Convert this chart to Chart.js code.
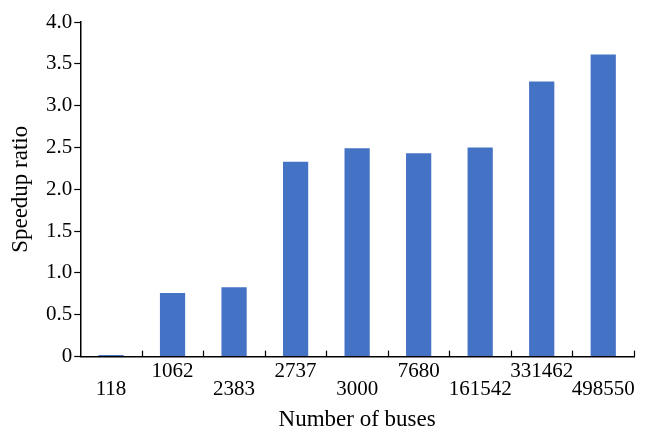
<!DOCTYPE html>
<html>
<head>
<meta charset="utf-8">
<script src="https://cdn.jsdelivr.net/npm/chart.js@4/dist/chart.umd.min.js"></script>
<style>
  html, body { margin: 0; padding: 0; background: #fff; }
  #wrap { width: 648px; height: 429px; }
</style>
</head>
<body>
<div id="wrap"><canvas id="chart"></canvas></div>
<script>
// Dados do gráfico
const buses = ['118', '1062', '2383', '2737', '3000', '7680', '161542', '331462', '498550'];
const speedup = [0.02, 0.76, 0.83, 2.33, 2.49, 2.43, 2.50, 3.29, 3.61];
const yTicks = [0, 0.5, 1.0, 1.5, 2.0, 2.5, 3.0, 3.5, 4.0];

const serif = '"Liberation Serif", "Times New Roman", serif';

// Marcas do eixo x viradas para cima, nas divisões entre categorias
const upTicks = {
  id: 'upTicks',
  afterDraw(chart) {
    const x = chart.scales.x;
    const ctx = chart.ctx;
    const bottom = chart.chartArea.bottom;
    const step = x.width / buses.length;
    ctx.save();
    ctx.strokeStyle = '#000';
    ctx.lineWidth = 1.2;
    for (let i = 1; i <= buses.length; i++) {
      const px = Math.round(x.left + step * i) + 0.5;
      ctx.beginPath();
      ctx.moveTo(px, bottom);
      ctx.lineTo(px, bottom - 6);
      ctx.stroke();
    }
    ctx.restore();
  }
};

new Chart(document.getElementById('chart'), {
  type: 'bar',
  data: {
    labels: buses,
    datasets: [{
      data: speedup,
      backgroundColor: '#4472C4',
      borderWidth: 0,
      barPercentage: 0.41,
      categoryPercentage: 1.0
    }]
  },
  options: {
    responsive: true,
    maintainAspectRatio: false,
    animation: false,
    layout: { padding: { top: 22, right: 14, bottom: -5, left: 9 } },
    plugins: {
      legend: { display: false },
      tooltip: { enabled: false }
    },
    scales: {
      x: {
        grid: { drawOnChartArea: false, drawTicks: false },
        border: { color: '#000', width: 1.5 },
        ticks: {
          color: '#000',
          maxRotation: 0,
          autoSkip: false,
          padding: 5,
          font: { family: serif, size: 21, lineHeight: 0.9 },
          callback: function(value, index) {
            const lbl = buses[index];
            return index % 2 === 0 ? ['', lbl] : [lbl, ''];
          }
        },
        title: {
          display: true,
          text: 'Number of buses',
          color: '#000',
          font: { family: serif, size: 23, lineHeight: 1.2 },
          padding: { top: 2, bottom: 0 }
        }
      },
      y: {
        min: 0,
        max: 4.0,
        afterBuildTicks: function(axis) {
          axis.ticks = yTicks.map(v => ({ value: v }));
        },
        grid: { drawOnChartArea: false, tickLength: 6, color: '#000', tickWidth: 1.2 },
        border: { color: '#000', width: 1.5 },
        ticks: {
          color: '#000',
          padding: 2,
          font: { family: serif, size: 21 },
          callback: function(value) {
            return value === 0 ? '0' : value.toFixed(1);
          }
        },
        title: {
          display: true,
          text: 'Speedup ratio',
          color: '#000',
          font: { family: serif, size: 23, lineHeight: 1 },
          padding: { top: 0, bottom: 12 }
        }
      }
    }
  },
  plugins: [upTicks]
});
</script>
</body>
</html>
